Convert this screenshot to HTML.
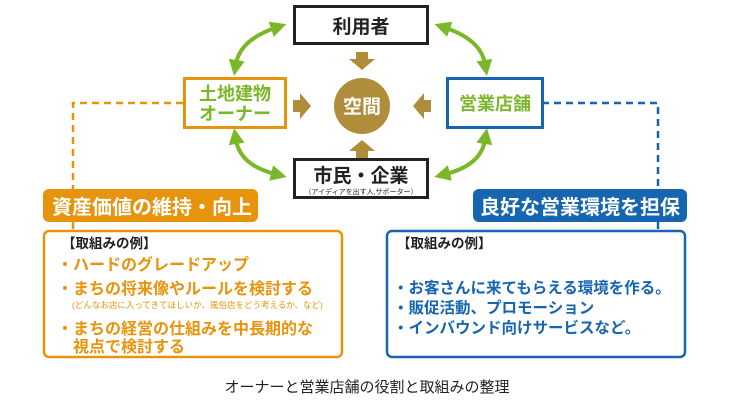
<!DOCTYPE html>
<html><head><meta charset="utf-8"><style>
body{margin:0;background:#fff;width:730px;height:409px;overflow:hidden}
svg{display:block}
text{font-family:"Liberation Sans","Noto Sans CJK JP",sans-serif;font-weight:bold}
text.n{font-weight:normal}
</style></head><body>
<svg width="730" height="409" viewBox="0 0 730 409">
<defs>
<marker id="g" markerUnits="userSpaceOnUse" markerWidth="16" markerHeight="16" refX="4" refY="8" orient="auto-start-reverse"><path d="M0,0 L16,8 L0,16 Z" fill="#7ab829"/></marker>
</defs>
<path d="M183,103 H73 V189 M73,222 V230" fill="none" stroke="#e8930c" stroke-width="2.5" stroke-dasharray="7,5"/>
<path d="M542,103 H658 V189 M658,222 V230" fill="none" stroke="#1565b0" stroke-width="2.5" stroke-dasharray="7,5"/>
<g fill="none" stroke="#7ab829" stroke-width="4">
<path d="M275,28 Q240,40 236,64" marker-start="url(#g)" marker-end="url(#g)"/>
<path d="M446,28 Q481,40 485,64" marker-start="url(#g)" marker-end="url(#g)"/>
<path d="M236,140 Q240,165 275,174" marker-start="url(#g)" marker-end="url(#g)"/>
<path d="M485,140 Q481,165 446,174" marker-start="url(#g)" marker-end="url(#g)"/>
</g>
<rect x="294.5" y="6.5" width="133" height="37" fill="#fff" stroke="#222" stroke-width="3"/>
<text x="361" y="33" font-size="19" text-anchor="middle" fill="#222">利用者</text>
<rect x="184.5" y="78.5" width="101" height="49" fill="#fff" stroke="#e8930c" stroke-width="3"/>
<text x="235" y="100" font-size="18" text-anchor="middle" fill="#7ab829">土地建物</text>
<text x="235" y="120" font-size="18" text-anchor="middle" fill="#7ab829">オーナー</text>
<rect x="447.5" y="78.5" width="95" height="49" fill="#fff" stroke="#1565b0" stroke-width="3"/>
<text x="495" y="110" font-size="18" text-anchor="middle" fill="#7ab829">営業店舗</text>
<rect x="294.5" y="159.5" width="133" height="38" fill="#fff" stroke="#222" stroke-width="3"/>
<text x="361" y="182" font-size="19" text-anchor="middle" fill="#222">市民・企業</text>
<text class="n" x="361" y="194" font-size="7" text-anchor="middle" fill="#222">（アイディアを出す人,サポーター）</text>
<circle cx="362" cy="106" r="28" fill="#b08d3a"/>
<text x="362" y="113" font-size="19" text-anchor="middle" fill="#fff">空間</text>
<g fill="#b08d3a">
<path d="M356,52 h12 v7 h7 l-13,11 l-13,-11 h7 z"/>
<path d="M293,100 h7 v-7 l11,13 l-11,13 v-7 h-7 z"/>
<path d="M431,100 h-7 v-7 l-11,13 l11,13 v-7 h7 z"/>
<path d="M356,158 h12 v-7 h7 l-13,-11 l-13,11 h7 z"/>
</g>
<rect x="43" y="189" width="215" height="33" rx="6" fill="#e8930c"/>
<text x="52" y="214" font-size="20" fill="#fff">資産価値の維持・向上</text>
<rect x="44" y="231" width="298" height="126" rx="5" fill="#fff" stroke="#e8930c" stroke-width="2.5"/>
<text x="62" y="248" font-size="13.5" fill="#222">【取組みの例】</text>
<g font-size="16" fill="#e8930c">
<text x="57" y="270">・ハードのグレードアップ</text>
<text x="57" y="294">・まちの将来像やルールを検討する</text>
<text x="57" y="334">・まちの経営の仕組みを中長期的な</text>
<text x="73" y="352">視点で検討する</text>
</g>
<text class="n" x="72" y="308" font-size="8.5" fill="#e8930c">(どんなお店に入ってきてほしいか、風俗店をどう考えるか、など)</text>
<rect x="473" y="189" width="214" height="33" rx="6" fill="#1565b0"/>
<text x="480" y="214" font-size="20" fill="#fff">良好な営業環境を担保</text>
<rect x="387" y="231" width="298" height="126" rx="5" fill="#fff" stroke="#1565b0" stroke-width="2.5"/>
<text x="397" y="248" font-size="13.5" fill="#222">【取組みの例】</text>
<g font-size="15.5" fill="#1565b0">
<text x="393" y="293">・お客さんに来てもらえる環境を作る。</text>
<text x="393" y="313">・販促活動、プロモーション</text>
<text x="393" y="333">・インバウンド向けサービスなど。</text>
</g>
<text class="n" x="367" y="392" font-size="15" text-anchor="middle" fill="#222">オーナーと営業店舗の役割と取組みの整理</text>
</svg>
</body></html>
